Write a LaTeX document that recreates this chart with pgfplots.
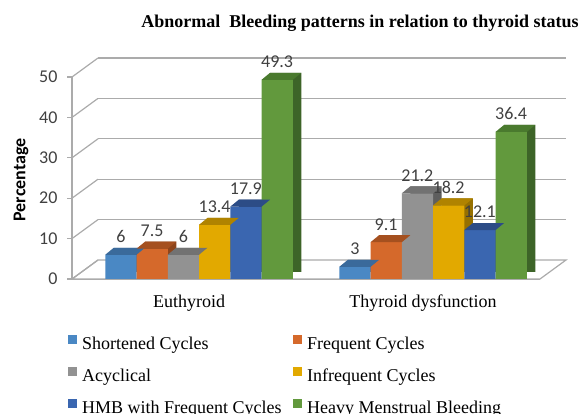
\documentclass[border=0pt]{standalone}
\usepackage{pgfplots}
\pgfplotsset{compat=1.18}
\usepackage{pgfplotstable}
\usepackage{fontspec}
\setmainfont{Liberation Serif}
\newfontfamily\carlito{Carlito}

\definecolor{gridc}{HTML}{ABABAB}
\definecolor{labc}{HTML}{404040}
\definecolor{sAf}{HTML}{4A88C4}\definecolor{sAt}{HTML}{3A6A9B}\definecolor{sAs}{HTML}{335E8A}
\definecolor{sBf}{HTML}{D5692B}\definecolor{sBt}{HTML}{A5501F}\definecolor{sBs}{HTML}{8E451B}
\definecolor{sCf}{HTML}{929292}\definecolor{sCt}{HTML}{727272}\definecolor{sCs}{HTML}{5E5E5E}
\definecolor{sDf}{HTML}{E2A900}\definecolor{sDt}{HTML}{B08300}\definecolor{sDs}{HTML}{967000}
\definecolor{sEf}{HTML}{3A66B0}\definecolor{sEt}{HTML}{2C4C86}\definecolor{sEs}{HTML}{264274}
\definecolor{sFf}{HTML}{62993D}\definecolor{sFt}{HTML}{4A7A2E}\definecolor{sFs}{HTML}{3D6428}

\pgfplotstableread{
x  s1  s2   s3   s4   s5   s6
0  6   7.5  6    13.4 17.9 49.3
1  3   9.1  21.2 18.2 12.1 36.4
}\datatable

\pgfdeclareplotmark{topface}{%
  \pgfpathmoveto{\pgfqpoint{-15.625pt}{0pt}}%
  \pgfpathlineto{\pgfqpoint{15.625pt}{0pt}}%
  \pgfpathlineto{\pgfqpoint{24.125pt}{7pt}}%
  \pgfpathlineto{\pgfqpoint{-7.125pt}{7pt}}%
  \pgfpathclose
  \pgfusepathqfill
}

% #1 column, #2 front shift, #3 shadow shift, #4 front, #5 top, #6 side
\newcommand{\barseries}[6]{%
  \addplot[ybar, bar width=31.25pt, bar shift=#3pt, yshift=7pt, fill=#6, draw=none, forget plot]
    table[x=x, y=#1]{\datatable};
  \addplot[ybar, bar width=31.25pt, bar shift=#2pt, fill=#4, draw=none]
    table[x=x, y=#1]{\datatable};
  \addplot[only marks, xshift=#2pt, mark=topface, mark options={fill=#5, draw=none}, forget plot]
    table[x=x, y=#1]{\datatable};
}
\newcommand{\labelseries}[2]{%
  \addplot[draw=none, mark=none, xshift=#2pt, forget plot,
    nodes near coords,
    every node near coord/.append style={anchor=center, yshift=18pt,
      font=\carlito\fontsize{18}{20}\selectfont, text=labc}]
    table[x=x, y=#1]{\datatable};
}

\begin{document}
\begin{tikzpicture}
\useasboundingbox (0pt,0pt) rectangle (585pt,414pt);
\node[font=\bfseries\fontsize{18}{20}\selectfont] at (360pt,391pt)
  {Abnormal\ \ Bleeding patterns in relation to thyroid status};
\node[rotate=90, font=\carlito\bfseries\fontsize{18}{20}\selectfont] at (21pt,234pt) {Percentage};
\begin{axis}[
  at={(72pt,135pt)}, anchor=south west,
  scale only axis, width=468pt, height=202pt,
  xmin=-0.5, xmax=1.5, ymin=0, ymax=50,
  clip=false,
  axis lines*=left,
  axis line style={draw=gridc, line width=1.2pt},
  /pgf/number format/assume math mode=true,
  xtick={0,1}, xticklabels={Euthyroid, Thyroid dysfunction},
  x tick style={draw=none},
  xticklabel style={font=\fontsize{18}{20}\selectfont, anchor=base, yshift=-23pt},
  ytick={0,10,...,50},
  tick align=outside, major tick length=5pt,
  y tick style={draw=gridc, line width=1.2pt},
  yticklabel style={font=\carlito\fontsize{18}{20}\selectfont, text=labc, anchor=east, xshift=-6pt},
  legend columns=2,
  legend cell align=left,
  legend image code/.code={\fill[#1] (0pt,1.5pt) rectangle (9pt,10.5pt);},
  legend style={at={(axis description cs:0,0)}, anchor=north west,
    xshift=-4pt, yshift=-56pt, draw=none, fill=none, inner sep=0pt,
    font=\fontsize{18}{20}\selectfont,
    row sep=11pt, column sep=0pt,
    nodes={inner xsep=5pt, inner ysep=2pt, text height=12.5pt, text depth=4pt},
    /tikz/every even column/.append style={column sep=6.5pt}},
  legend entries={Shortened Cycles, Frequent Cycles, Acyclical, Infrequent Cycles,
    HMB with Frequent Cycles, Heavy Menstrual Bleeding},
]
% floor
\draw[gridc, fill=white, line width=1.2pt] (axis cs:-0.5,0) -- (axis cs:1.5,0)
  -- ([xshift=26pt,yshift=19pt]axis cs:1.5,0) -- ([xshift=26pt,yshift=19pt]axis cs:-0.5,0) -- cycle;
% back wall grid
\pgfplotsinvokeforeach{10,20,30,40,50}{
  \draw[gridc, line width=1.2pt] ([xshift=26pt,yshift=19pt]axis cs:-0.5,#1)
    -- ([xshift=26pt,yshift=19pt]axis cs:1.5,#1);
}
% side wall grid
\pgfplotsinvokeforeach{0,10,20,30,40,50}{
  \draw[gridc, line width=1.2pt] (axis cs:-0.5,#1) -- ([xshift=26pt,yshift=19pt]axis cs:-0.5,#1);
}
\barseries{s1}{-68.125}{-59.625}{sAf}{sAt}{sAs}
\barseries{s2}{-36.875}{-28.375}{sBf}{sBt}{sBs}
\barseries{s3}{-5.625}{2.875}{sCf}{sCt}{sCs}
\barseries{s4}{25.625}{34.125}{sDf}{sDt}{sDs}
\barseries{s5}{56.875}{65.375}{sEf}{sEt}{sEs}
\barseries{s6}{88.125}{96.625}{sFf}{sFt}{sFs}
\labelseries{s1}{-68.125}
\labelseries{s2}{-36.875}
\labelseries{s3}{-5.625}
\labelseries{s4}{25.625}
\labelseries{s5}{56.875}
\labelseries{s6}{88.125}
\end{axis}
\end{tikzpicture}
\end{document}
